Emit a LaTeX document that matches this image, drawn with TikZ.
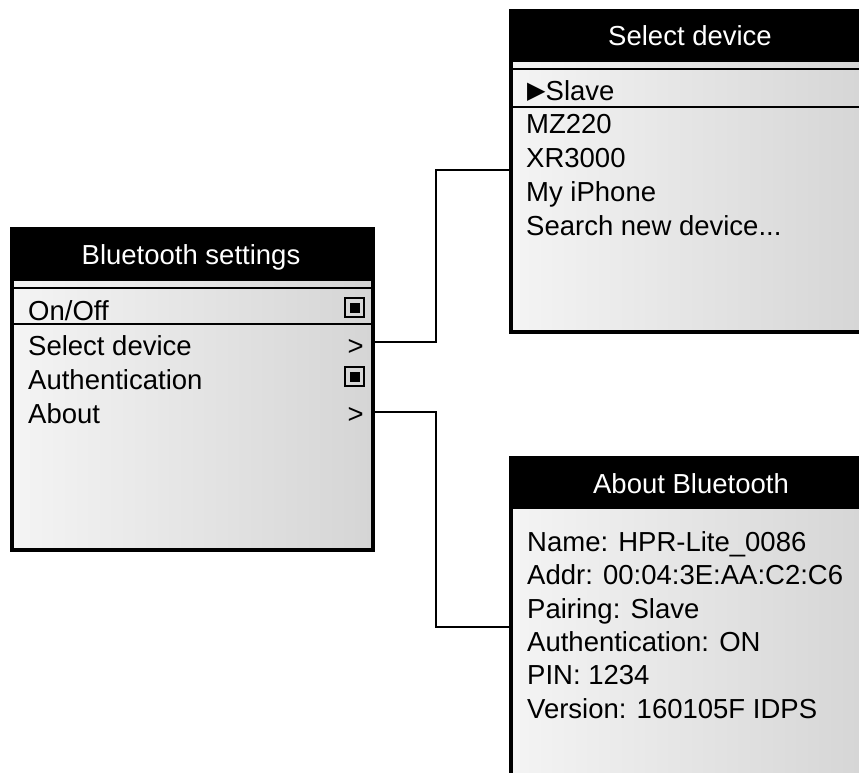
\documentclass[tikz,border=0pt]{standalone}
\usepackage{fontspec}
\setmainfont{Liberation Sans}
\newfontfamily\symfont{DejaVu Sans}
\definecolor{shL}{RGB}{244,244,244}
\definecolor{shR}{RGB}{213,213,213}
\begin{document}
\begin{tikzpicture}[x=1pt,y=-1pt,
  every node/.style={font=\fontsize{27.5}{34}\selectfont, inner sep=0pt},
  panel/.style={anchor=north west, minimum width=360pt, minimum height=320pt,
    left color=shL, right color=shR, draw=black, line width=2.5pt},
  hdrbar/.style={fill=black},
  title/.style={text=white, anchor=base},
  item/.style={anchor=base west, text=black},
  arrowmark/.style={anchor=base east, text=black},
  rowline/.style={draw=black, line width=2pt},
  chk/.style={draw=black, line width=2pt, minimum size=19pt, inner sep=0pt,
    path picture={\fill[black] ([shift={(-5pt,-5pt)}]path picture bounding box.center)
      rectangle ([shift={(5pt,5pt)}]path picture bounding box.center);}},
  conn/.style={draw=black, line width=2.8pt}
]
\useasboundingbox (0,0) rectangle (859,772);
\clip (0,0) rectangle (859,772);

% ---------- Bluetooth settings ----------
\node[panel] (bt) at (11,228) {};
\fill[hdrbar] (11,228) rectangle (371,281);
\node[title] (btt) at (191,264) {Bluetooth settings};
\draw[rowline] (11,288) -- (371,288);
\draw[rowline] (11,324) -- (371,324);
\node[item] (bt1) at (28,320) {On/Off};
\node[item] (bt2) at (28,355) {Select device};
\node[item] (bt3) at (28,389) {Authentication};
\node[item] (bt4) at (28,423) {About};
\node[chk] (bc1) at (354.5,307.5) {};
\node[arrowmark] (ba2) at (364,355) {>};
\node[chk] (bc3) at (354.5,376.5) {};
\node[arrowmark] (ba4) at (364,423) {>};
\draw[line width=2.5pt] (bt.north west) rectangle (bt.south east);

% ---------- Select device ----------
\node[panel] (sd) at (510,10) {};
\fill[hdrbar] (510,10) rectangle (870,62);
\node[title] (sdt) at (690,45) {Select device};
\draw[rowline] (510,69) -- (870,69);
\draw[rowline] (510,107) -- (870,107);
\node[item] (sd1) at (527,100) {\raisebox{2pt}{\symfont\fontsize{24}{24}\selectfont ▶}Slave};
\node[item] (sd2) at (526,133.5) {MZ220};
\node[item] (sd3) at (526,167.5) {XR3000};
\node[item] (sd4) at (526,201.5) {My iPhone};
\node[item] (sd5) at (526,235.5) {Search new device...};
\draw[line width=2.5pt] (sd.north west) rectangle (sd.south east);

% ---------- About Bluetooth ----------
\node[panel] (ab) at (510,457) {};
\fill[hdrbar] (510,457) rectangle (870,509);
\node[title] (abt) at (691,493) {About Bluetooth};
\node[item] (ab1) at (527,551) {Name: HPR-Lite\_0086};
\node[item] (ab2) at (527,584.5) {Addr: 00:04:3E:AA:C2:C6};
\node[item] (ab3) at (527,618) {Pairing: Slave};
\node[item] (ab4) at (527,651) {Authentication: ON};
\node[item] (ab5) at (527,684.5) {PIN: 1234};
\node[item] (ab6) at (527,718) {Version: 160105F IDPS};
\draw[line width=2.5pt] (ab.north west) rectangle (ab.south east);

% ---------- connectors ----------
\coordinate (j1) at (436,170);
\coordinate (j2) at (436,627);
\coordinate (s1) at (371,342);
\coordinate (s2) at (371,412);
\draw[conn] (s1) -| (j1) -- (sd.west |- j1);
\draw[conn] (s2) -| (j2) -- (ab.west |- j2);
\end{tikzpicture}
\end{document}
